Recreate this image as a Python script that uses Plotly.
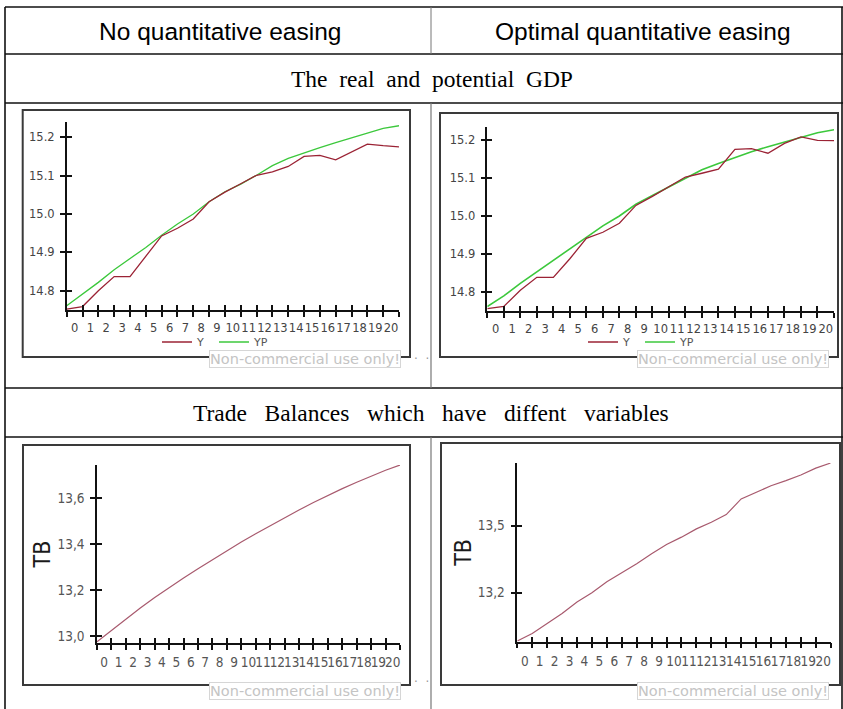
import plotly.graph_objects as go

W, H = 843, 709

# ---------------- data ----------------
period_boundaries = [0, 1, 2, 3, 4, 5, 6, 7, 8, 9, 10, 11, 12, 13, 14, 15, 16, 17, 18, 19, 20, 21]
period_labels = ["0", "1", "2", "3", "4", "5", "6", "7", "8", "9", "10",
                 "11", "12", "13", "14", "15", "16", "17", "18", "19", "20"]

Y_no = [14.752, 14.759, 14.800, 14.837, 14.837, 14.891, 14.943, 14.963, 14.987, 15.032, 15.057,
        15.079, 15.101, 15.110, 15.124, 15.150, 15.153, 15.141, 15.162, 15.182, 15.178, 15.175]
YP_no = [14.761, 14.791, 14.822, 14.855, 14.884, 14.913, 14.945, 14.974, 15.000, 15.032, 15.058,
         15.078, 15.101, 15.126, 15.145, 15.160, 15.173, 15.186, 15.199, 15.212, 15.223, 15.230]
Y_opt = [14.755, 14.761, 14.804, 14.838, 14.838, 14.887, 14.941, 14.957, 14.981, 15.028, 15.052,
         15.077, 15.103, 15.113, 15.124, 15.176, 15.178, 15.166, 15.192, 15.209, 15.200, 15.199]
YP_opt = [14.761, 14.789, 14.822, 14.852, 14.883, 14.913, 14.944, 14.974, 15.000, 15.031, 15.054,
          15.076, 15.100, 15.122, 15.139, 15.155, 15.170, 15.183, 15.196, 15.209, 15.220, 15.228]
TB_no = [12.975, 13.025, 13.074, 13.122, 13.168, 13.212, 13.253, 13.293, 13.333, 13.372, 13.410,
         13.446, 13.481, 13.516, 13.549, 13.582, 13.613, 13.642, 13.670, 13.697, 13.722, 13.745]
TB_opt = [12.983, 13.017, 13.062, 13.106, 13.158, 13.199, 13.248, 13.288, 13.329, 13.374, 13.415,
          13.448, 13.485, 13.515, 13.549, 13.619, 13.649, 13.678, 13.701, 13.726, 13.757, 13.780]

gdp_ticks = [14.8, 14.9, 15.0, 15.1, 15.2]
gdp_ticktext = ["14.8", "14.9", "15.0", "15.1", "15.2"]
tb_no_ticks = [13.0, 13.2, 13.4, 13.6]
tb_no_ticktext = ["13,0", "13,2", "13,4", "13,6"]
tb_opt_ticks = [13.2, 13.5]
tb_opt_ticktext = ["13,2", "13,5"]

col_titles = ["No quantitative easing", "Optimal quantitative easing"]
row_titles = ["The\u00a0 real\u00a0 and\u00a0 potential\u00a0 GDP",
              "Trade\u00a0\u00a0 Balances\u00a0\u00a0 which\u00a0\u00a0 have\u00a0\u00a0 diffent\u00a0\u00a0 variables"]
watermark = "Non-commercial use only!"

# ---------------- helpers ----------------
def fx(p):
    return p / W


def fy(p):
    return 1 - p / H


RED = "#9b2335"
GREEN = "#3cc83c"
TBC = "#a85a6e"
AX = "#111111"
label_pos = [b + 0.5 for b in period_boundaries[:-1]]

# panel geometry in pixels: (left, right, top, bottom), y range
panels = {
    "1": dict(px=(66.7, 399), py=(122.3, 310), yr=[14.75, 15.239]),
    "2": dict(px=(487.3, 834), py=(126.7, 311), yr=[14.749, 15.236]),
    "3": dict(px=(97, 400), py=(465, 643), yr=[12.97, 13.745]),
    "4": dict(px=(517.3, 830.7), py=(463, 641.7), yr=[12.98, 13.78]),
}
overlay_of = {"1": "5", "2": "6", "3": "7", "4": "8"}

fig = go.Figure()

# top-left
fig.add_trace(go.Scatter(x=period_boundaries, y=YP_no, mode="lines", name="YP",
                         line=dict(color=GREEN, width=1.3), xaxis="x", yaxis="y",
                         legend="legend", legendrank=2, hoverinfo="skip"))
fig.add_trace(go.Scatter(x=period_boundaries, y=Y_no, mode="lines", name="Y",
                         line=dict(color=RED, width=1.3), xaxis="x", yaxis="y",
                         legend="legend", legendrank=1, hoverinfo="skip"))
# top-right
fig.add_trace(go.Scatter(x=period_boundaries, y=YP_opt, mode="lines", name="YP",
                         line=dict(color=GREEN, width=1.6), xaxis="x2", yaxis="y2",
                         legend="legend2", legendrank=2, hoverinfo="skip"))
fig.add_trace(go.Scatter(x=period_boundaries, y=Y_opt, mode="lines", name="Y",
                         line=dict(color=RED, width=1.3), xaxis="x2", yaxis="y2",
                         legend="legend2", legendrank=1, hoverinfo="skip"))
# bottom
fig.add_trace(go.Scatter(x=period_boundaries, y=TB_no, mode="lines", name="TB",
                         line=dict(color=TBC, width=1.2), xaxis="x3", yaxis="y3",
                         showlegend=False, hoverinfo="skip"))
fig.add_trace(go.Scatter(x=period_boundaries, y=TB_opt, mode="lines", name="TB",
                         line=dict(color=TBC, width=1.2), xaxis="x4", yaxis="y4",
                         showlegend=False, hoverinfo="skip"))

# overlay helper traces (inside half of the crossing tick marks)
for k, o in overlay_of.items():
    xk = "x" if k == "1" else "x" + k
    yk = "y" if k == "1" else "y" + k
    fig.add_trace(go.Scatter(x=[None], y=[None], xaxis="x" + o, yaxis=yk,
                             showlegend=False, hoverinfo="skip"))
    fig.add_trace(go.Scatter(x=[None], y=[None], xaxis=xk, yaxis="y" + o,
                             showlegend=False, hoverinfo="skip"))

top_tick_font = dict(family="DejaVu Sans", size=11.5, color="#444444")
bot_tick_font = dict(family="DejaVu Sans Condensed", size=13.5, color="#555555")

layout_axes = {}
for k, p in panels.items():
    xname = "xaxis" if k == "1" else "xaxis" + k
    yname = "yaxis" if k == "1" else "yaxis" + k
    xid = "x" if k == "1" else "x" + k
    yid = "y" if k == "1" else "y" + k
    o = overlay_of[k]
    xd = [fx(p["px"][0]), fx(p["px"][1])]
    yd = [fy(p["py"][1]), fy(p["py"][0])]
    top = k in ("1", "2")
    tfont = top_tick_font if top else bot_tick_font
    if k == "1" or k == "2":
        yt, ytt = gdp_ticks, gdp_ticktext
    elif k == "3":
        yt, ytt = tb_no_ticks, tb_no_ticktext
    else:
        yt, ytt = tb_opt_ticks, tb_opt_ticktext
    layout_axes[xname] = dict(
        domain=xd, anchor=yid, range=[0, 21], showline=True, linecolor=AX, linewidth=1.5,
        showgrid=False, zeroline=False, tickmode="array", tickvals=label_pos,
        ticktext=period_labels, ticks="outside", ticklen=0, tickfont=tfont, tickangle=0,
        ticklabelstandoff=6,
        minor=dict(tickmode="array", tickvals=period_boundaries, ticks="outside",
                   ticklen=5, tickwidth=1.5, tickcolor=AX, showgrid=False),
        fixedrange=True)
    layout_axes["xaxis" + o] = dict(
        overlaying=xid, anchor=yid, range=[0, 21], showline=False, showgrid=False,
        zeroline=False, tickmode="array", tickvals=period_boundaries, ticks="inside",
        ticklen=5, tickwidth=1.5, tickcolor=AX, showticklabels=False, fixedrange=True)
    ydict = dict(
        domain=yd, anchor=xid, range=p["yr"], showline=True, linecolor=AX, linewidth=1.5,
        showgrid=False, zeroline=False, tickmode="array", tickvals=yt, ticktext=ytt,
        ticks="outside", ticklen=5, tickwidth=1.5, tickcolor=AX, tickfont=tfont,
        ticklabelstandoff=3, fixedrange=True)
    if not top:
        ydict["title"] = dict(text="TB", standoff=0,
                              font=dict(family="DejaVu Sans Condensed", size=23, color="#1a1a1a"))
    layout_axes[yname] = ydict
    layout_axes["yaxis" + o] = dict(
        overlaying=yid, anchor=xid, range=p["yr"], showline=False, showgrid=False,
        zeroline=False, tickmode="array", tickvals=yt, ticks="inside", ticklen=5,
        tickwidth=1.5, tickcolor=AX, showticklabels=False, fixedrange=True)

# ---------------- table & boxes ----------------
shapes = []


def hline(y, x0=5, x1=843, color="#111111", w=1.6):
    shapes.append(dict(type="line", xref="paper", yref="paper", x0=fx(x0), x1=fx(x1),
                       y0=fy(y), y1=fy(y), line=dict(color=color, width=w), layer="below"))


def vline(x, y0, y1, color="#111111", w=1.6):
    shapes.append(dict(type="line", xref="paper", yref="paper", x0=fx(x), x1=fx(x),
                       y0=fy(y0), y1=fy(y1), line=dict(color=color, width=w), layer="below"))


def box(x0, y0, x1, y1):
    shapes.append(dict(type="rect", xref="paper", yref="paper", x0=fx(x0), x1=fx(x1),
                       y0=fy(y1), y1=fy(y0), line=dict(color="#3a3a3a", width=2),
                       layer="below"))


for yy in (7, 54, 103, 388, 437):
    hline(yy)
vline(5, 7, 709)
vline(842, 7, 709)
vline(431, 7, 54, color="#777777", w=1)
vline(431, 103, 388, color="#777777", w=1.2)
vline(431, 437, 709, color="#777777", w=1.2)

box(22.7, 110, 410, 357)
box(440, 113, 838, 357)
box(23, 445, 410, 685)
box(441, 443, 840, 685)

annotations = []
hdr_font = dict(family="Liberation Sans", size=24.5, color="#000000")
serif_font = dict(family="Liberation Serif", size=23.5, color="#000000")
annotations.append(dict(text=col_titles[0], x=fx(220), y=fy(31), xref="paper", yref="paper",
                        showarrow=False, font=hdr_font, xanchor="center", yanchor="middle"))
annotations.append(dict(text=col_titles[1], x=fx(643), y=fy(31), xref="paper", yref="paper",
                        showarrow=False, font=hdr_font, xanchor="center", yanchor="middle"))
annotations.append(dict(text=row_titles[0], x=fx(432), y=fy(79), xref="paper", yref="paper",
                        showarrow=False, font=serif_font, xanchor="center", yanchor="middle"))
annotations.append(dict(text=row_titles[1], x=fx(431), y=fy(413), xref="paper", yref="paper",
                        showarrow=False, font=serif_font, xanchor="center", yanchor="middle"))

wm_font = dict(family="DejaVu Sans", size=14.5, color="#c4c4c4")
for (cx, cy) in ((305, 359), (733, 359), (305, 691), (733, 691)):
    annotations.append(dict(text=watermark, x=fx(cx), y=fy(cy), xref="paper", yref="paper",
                            showarrow=False, font=wm_font, xanchor="center", yanchor="middle",
                            bgcolor="#ffffff", bordercolor="#d6d6d6", borderwidth=1, borderpad=0))
for cy in (359, 691):
    annotations.append(dict(text="\u00b7\u00a0\u00a0\u00b7", x=fx(421), y=fy(cy), xref="paper",
                            yref="paper", showarrow=False,
                            font=dict(family="DejaVu Sans", size=12, color="#999999")))

leg_common = dict(orientation="h", xanchor="center", yanchor="middle",
                  font=dict(family="DejaVu Sans", size=11, color="#555555"),
                  bgcolor="rgba(0,0,0,0)", itemwidth=30, entrywidth=12,
                  traceorder="normal")

fig.update_layout(
    width=W, height=H,
    margin=dict(l=0, r=0, t=0, b=0),
    paper_bgcolor="#ffffff", plot_bgcolor="#ffffff",
    showlegend=True,
    legend=dict(x=fx(214), y=fy(342), **leg_common),
    legend2=dict(x=fx(640), y=fy(342), **leg_common),
    shapes=shapes, annotations=annotations,
    **layout_axes,
)

fig.write_html("out.html", config={"displayModeBar": False},
               post_script="document.body.style.margin='0';document.body.style.overflow='hidden';")
